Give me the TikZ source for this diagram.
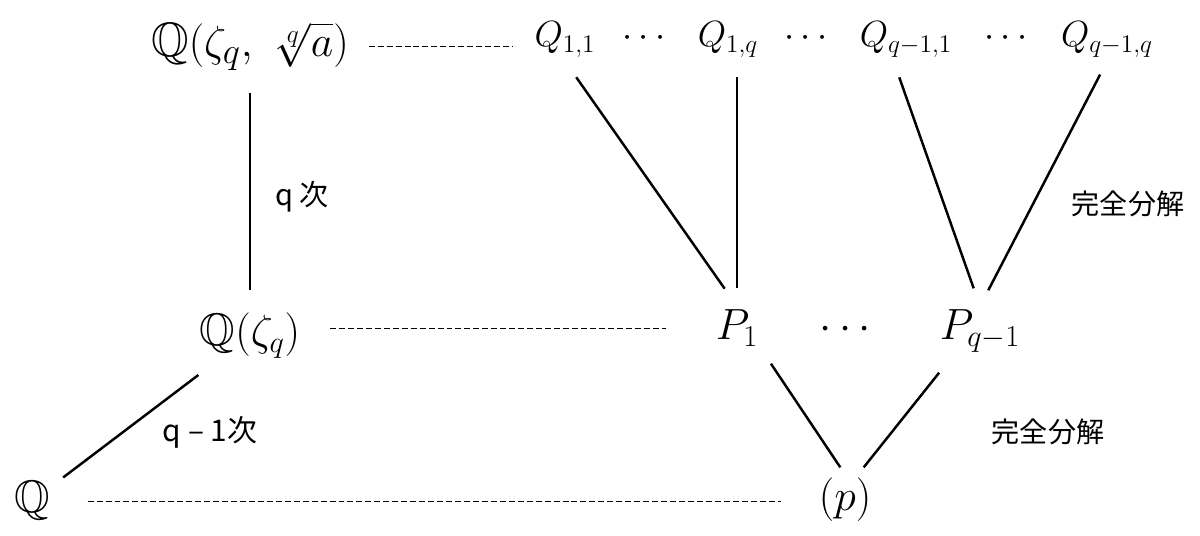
\documentclass[tikz,border=0pt]{standalone}
\usepackage{amsmath,amssymb}
\usepackage{fontspec}
\newfontfamily\jpfont{Noto Sans CJK JP}

\begin{document}
\begin{tikzpicture}[x=0.02cm,y=-0.02cm]
\tikzset{
  fieldnode/.style={anchor=base,inner sep=2pt,font=\fontsize{26}{30}\selectfont},
  primenode/.style={anchor=base,inner sep=2pt,font=\fontsize{25}{30}\selectfont},
  splitnode/.style={anchor=base,inner sep=2pt,font=\fontsize{20.5}{24}\selectfont},
  jplabel/.style={inner sep=1pt,font=\jpfont\fontsize{16}{20}\selectfont},
  extension/.style={line width=1.4pt},
  lies/.style={line width=0.6pt,dash pattern=on 3.4pt off 1.7pt}
}
\useasboundingbox (0,0) rectangle (1200,536);
\node[fieldnode,font=\fontsize{27.5}{30}\selectfont] (n_top) at (250,57) {$\mathbb{Q}(\zeta_q,\ \sqrt[q]{a})$};
\node[fieldnode] (n_mid) at (250,346) {$\mathbb{Q}(\zeta_q)$};
\node[fieldnode] (n_Q) at (32,513) {$\mathbb{Q}$};
\node[splitnode] (n_Q_1_1) at (565,47) {$Q_{1,1}$};
\node[splitnode] (n_dots_a) at (647,47) {$\cdots$};
\node[splitnode] (n_Q_1_q) at (728,47) {$Q_{1,q}$};
\node[splitnode] (n_dots_b) at (809,47) {$\cdots$};
\node[splitnode] (n_Q_r_1) at (906,47) {$Q_{q-1,1}$};
\node[splitnode] (n_dots_c) at (1009,47) {$\cdots$};
\node[splitnode] (n_Q_r_q) at (1107,47) {$Q_{q-1,q}$};
\node[primenode] (n_P_1) at (737,340) {$P_1$};
\node[primenode] (n_dots_m) at (849,340) {$\cdots$};
\node[primenode] (n_P_r) at (980,340) {$P_{q-1}$};
\node[primenode] (n_p) at (845,511) {$(p)$};
\node[jplabel,font=\jpfont\fontsize{16.5}{20}\selectfont] (n_deg_a) at (302,197) {q 次};
\node[jplabel,font=\jpfont\fontsize{17}{20}\selectfont] (n_deg_b) at (210,432) {q – 1次};
\node[jplabel] (n_split_a) at (1128,204) {完全分解};
\node[jplabel] (n_split_b) at (1048,432) {完全分解};
% extensions
\draw[extension,shorten <=0.38cm,shorten >=0.38cm] (n_top.south) -- (n_mid.north);
\draw[extension,shorten <=0.42cm,shorten >=0.24cm] (n_mid) -- (n_Q);
\draw[extension,shorten <=0.39cm,shorten >=0.43cm] (n_Q_1_1.south) -- (n_P_1.north);
\draw[extension,shorten <=0.32cm,shorten >=0.36cm] (n_P_1.north |- n_Q_1_q.south) -- (n_P_1.north);
\draw[extension,shorten <=0.34cm,shorten >=0.38cm] (n_Q_r_1.240) -- (n_P_r.north);
\draw[extension,shorten <=0.30cm,shorten >=0.36cm] (n_Q_r_q.south) -- (n_P_r.north);
\draw[extension,shorten <=0.32cm,shorten >=0.17cm] (n_P_1.south east) -- (n_p.north);
\draw[extension,shorten <=0.42cm,shorten >=0.18cm] (n_P_r.222) -- (n_p.63);
% lying over
\draw[lies,shorten <=0.32cm,shorten >=0.36cm] (n_top.east) -- (n_top.east -| n_Q_1_1.west);
\draw[lies,shorten <=0.52cm,shorten >=0.92cm] (n_mid.east |- n_P_1.west) -- (n_P_1.west);
\draw[lies,shorten <=0.68cm,shorten >=0.68cm] (n_Q.east) -- (n_Q.east -| n_p.west);
\end{tikzpicture}
\end{document}
